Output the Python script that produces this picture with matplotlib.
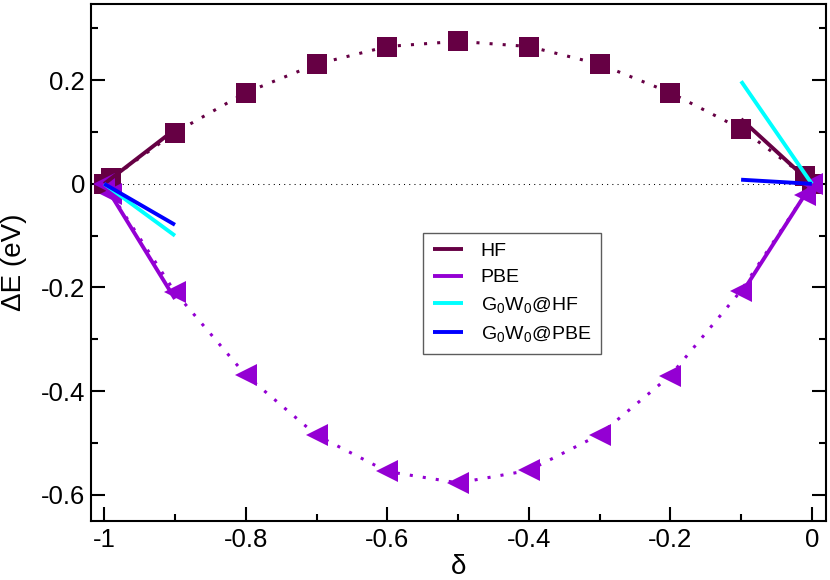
import matplotlib
matplotlib.use("Agg")
import matplotlib.pyplot as plt
from matplotlib.ticker import MultipleLocator

plt.rcParams['font.family'] = ['Liberation Sans', 'DejaVu Sans']
plt.rcParams['mathtext.fontset'] = 'custom'
plt.rcParams['mathtext.rm'] = 'Liberation Sans'

# total energy deviation vs fractional charge delta
delta = [-1.0, -0.99, -0.9, -0.8, -0.7, -0.6, -0.5, -0.4, -0.3, -0.2, -0.1, -0.01, 0.0]
hf = [0.0, 0.011, 0.099, 0.176, 0.231, 0.265, 0.275, 0.265, 0.231, 0.176, 0.106, 0.015, 0.0]
pbe = [0.0, -0.020, -0.209, -0.369, -0.485, -0.555, -0.577, -0.553, -0.484, -0.370, -0.206, -0.021, 0.0]

# slopes at the integer ends (straight segments)
left_x = [-1.0, -0.9]
right_x = [-0.1, 0.0]
hf_left = [0.0, 0.105]
hf_right = [0.125, 0.0]
pbe_left = [0.0, -0.222]
pbe_right = [-0.213, 0.0]
gw_hf_left = [0.0, -0.100]
gw_hf_right = [0.198, 0.0]
gw_pbe_left = [0.0, -0.079]
gw_pbe_right = [0.008, 0.0]

labels = ['HF', 'PBE', r'G$_0$W$_0$@HF', r'G$_0$W$_0$@PBE']
x_ticks = [-1, -0.8, -0.6, -0.4, -0.2, 0]
x_ticklabels = ['-1', '-0.8', '-0.6', '-0.4', '-0.2', '0']
y_ticks = [-0.6, -0.4, -0.2, 0, 0.2]
y_ticklabels = ['-0.6', '-0.4', '-0.2', '0', '0.2']

HF_COL = '#660044'
PBE_COL = '#9400d3'
GWHF_COL = '#00ffff'
GWPBE_COL = '#0000ff'


def draw_curve(ax, x, y, color, marker, ms):
    ax.plot(x, y, color=color, lw=2.2, dashes=(1, 3.3), marker=marker, ms=ms,
            mew=0, zorder=3)


def draw_ends(ax, left, right, color, label):
    ax.plot(left_x, left, color=color, lw=2.8, solid_capstyle='butt', label=label, zorder=4)
    ax.plot(right_x, right, color=color, lw=2.8, solid_capstyle='butt', zorder=4)


fig = plt.figure(figsize=(8.3, 5.8), dpi=100)
ax = fig.add_axes([0.1102, 0.1022, 0.8850, 0.8909])

ax.axhline(0, color='black', lw=0.75, dashes=(1, 4), zorder=1)

draw_curve(ax, delta, hf, HF_COL, 's', 14.4)
draw_ends(ax, hf_left, hf_right, HF_COL, labels[0])
draw_curve(ax, delta, pbe, PBE_COL, '<', 16)
draw_ends(ax, pbe_left, pbe_right, PBE_COL, labels[1])
draw_ends(ax, gw_hf_left, gw_hf_right, GWHF_COL, labels[2])
draw_ends(ax, gw_pbe_left, gw_pbe_right, GWPBE_COL, labels[3])

ax.set_xlim(-1.018, 0.020)
ax.set_ylim(-0.65, 0.347)
ax.set_xticks(x_ticks)
ax.set_xticklabels(x_ticklabels)
ax.set_yticks(y_ticks)
ax.set_yticklabels(y_ticklabels)
ax.xaxis.set_minor_locator(MultipleLocator(0.1))
ax.yaxis.set_minor_locator(MultipleLocator(0.1))
ax.tick_params(which='both', direction='in', width=1.5, labelsize=18.5,
               left=True, right=True, top=False, bottom=True)
ax.tick_params(which='major', length=10)
ax.tick_params(which='minor', length=5)
ax.tick_params(axis='y', pad=4.5)
ax.tick_params(axis='x', pad=5.5)
for s in ax.spines.values():
    s.set_linewidth(1.5)

ax.set_xlabel('δ', fontsize=20, labelpad=1)
ax.set_ylabel('ΔE (eV)', fontsize=20, labelpad=10)

leg = ax.legend(loc='center', bbox_to_anchor=(0.5725, 0.4397), fontsize=14,
                frameon=True, fancybox=False, edgecolor='#333333',
                handlelength=1.55, handletextpad=0.9, borderpad=0.5, labelspacing=0.45)
leg.get_frame().set_linewidth(1.0)

fig.savefig('out.png', dpi=100)
